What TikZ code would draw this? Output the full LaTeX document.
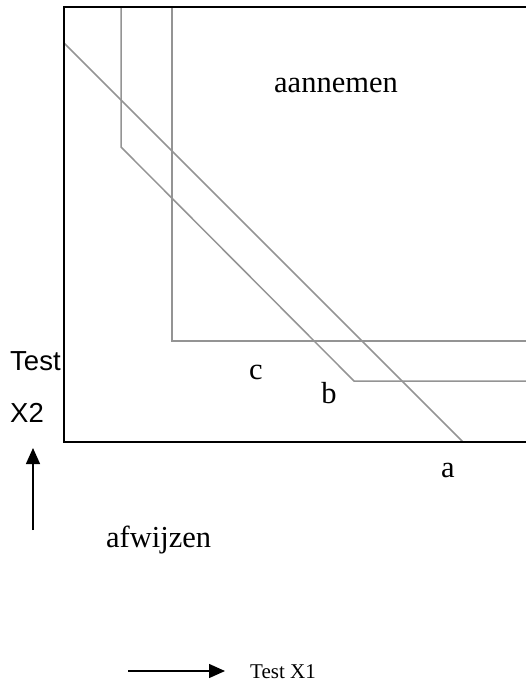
\documentclass[tikz,border=0pt]{standalone}
\usepackage{fontspec}
\setmainfont{Liberation Serif}
\newfontfamily\arialfont{Liberation Sans}
\usetikzlibrary{arrows.meta}

\begin{document}
\begin{tikzpicture}[x=1pt,y=-1pt,
		grens/.style={draw=black!42,line width=1.5pt},
		kader/.style={draw=black,line width=2pt},
		lbl/.style={anchor=base,inner sep=0pt,font=\fontsize{30.5}{36}\selectfont},
		aslbl/.style={anchor=base west,inner sep=0pt,font=\arialfont\fontsize{27.5}{32}\selectfont},
		pijl/.style={line width=1.4pt,-{Triangle[length=16pt,width=14pt]}}]
	\useasboundingbox (0,0) rectangle (526,689);
	% grenslijnen a, b en c
	\draw[grens] (64,43) -- (463,442);
	\draw[grens] (121,7) -- (121,147) -- (354,381) -- (526,381);
	\draw[grens] (172,7) -- (172,341) -- (526,341);
	% kader
	\draw[kader] (526,7) -- (64,7) -- (64,442) -- (526,442);
	% tekst
	\node[lbl] (aannemen) at (336,92) {aannemen};
	\node[lbl] (lc) at (256,379) {c};
	\node[lbl] (lb) at (329,403) {b};
	\node[lbl] (la) at (448,477) {a};
	\node[lbl,anchor=base west] (afwijzen) at (106,547) {afwijzen};
	\node[aslbl] (test) at (10,370) {Test};
	\node[aslbl] (xtwo) at (10,422) {X2};
	\node[anchor=base west,inner sep=0pt,font=\fontsize{21}{25}\selectfont] (testxone) at (250,678) {Test X1};
	% pijlen
	\coordinate (vstart) at (33,530);
	\coordinate (vend) at (33,448);
	\draw[pijl] (vstart) -- (vend);
	\coordinate (hstart) at (128,671);
	\coordinate (hend) at (225,671);
	\draw[pijl] (hstart) -- (hend);
\end{tikzpicture}
\end{document}
